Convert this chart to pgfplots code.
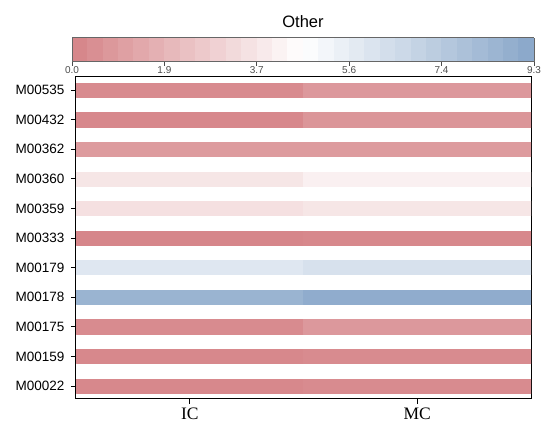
\documentclass[border=0pt]{standalone}
\usepackage{fontspec}
\setmainfont{Liberation Serif}
\newfontfamily\arial{Liberation Sans}
\usepackage{pgfplots}
\pgfplotsset{compat=1.18}
\usepackage{pgfplotstable}

\pgfplotstableread{
x y c
-0.5 9.76 0.3
0.5 9.76 0.3
0.5 10.24 0.3
-0.5 10.24 0.3
0.5 9.76 0.8
1.5 9.76 0.8
1.5 10.24 0.8
0.5 10.24 0.8
-0.5 8.76 0.2
0.5 8.76 0.2
0.5 9.24 0.2
-0.5 9.24 0.2
0.5 8.76 0.7
1.5 8.76 0.7
1.5 9.24 0.7
0.5 9.24 0.7
-0.5 7.76 0.9
0.5 7.76 0.9
0.5 8.24 0.9
-0.5 8.24 0.9
0.5 7.76 0.9
1.5 7.76 0.9
1.5 8.24 0.9
0.5 8.24 0.9
-0.5 6.76 3.7
0.5 6.76 3.7
0.5 7.24 3.7
-0.5 7.24 3.7
0.5 6.76 4.1
1.5 6.76 4.1
1.5 7.24 4.1
0.5 7.24 4.1
-0.5 5.76 3.5
0.5 5.76 3.5
0.5 6.24 3.5
-0.5 6.24 3.5
0.5 5.76 3.7
1.5 5.76 3.7
1.5 6.24 3.7
0.5 6.24 3.7
-0.5 4.76 0.1
0.5 4.76 0.1
0.5 5.24 0.1
-0.5 5.24 0.1
0.5 4.76 0.2
1.5 4.76 0.2
1.5 5.24 0.2
0.5 5.24 0.2
-0.5 3.76 5.9
0.5 3.76 5.9
0.5 4.24 5.9
-0.5 4.24 5.9
0.5 3.76 6.2
1.5 3.76 6.2
1.5 4.24 6.2
0.5 4.24 6.2
-0.5 2.76 8.6
0.5 2.76 8.6
0.5 3.24 8.6
-0.5 3.24 8.6
0.5 2.76 9.0
1.5 2.76 9.0
1.5 3.24 9.0
0.5 3.24 9.0
-0.5 1.76 0.3
0.5 1.76 0.3
0.5 2.24 0.3
-0.5 2.24 0.3
0.5 1.76 0.8
1.5 1.76 0.8
1.5 2.24 0.8
0.5 2.24 0.8
-0.5 0.76 0.2
0.5 0.76 0.2
0.5 1.24 0.2
-0.5 1.24 0.2
0.5 0.76 0.3
1.5 0.76 0.3
1.5 1.24 0.3
0.5 1.24 0.3
-0.5 -0.24 0.2
0.5 -0.24 0.2
0.5 0.24 0.2
-0.5 0.24 0.2
0.5 -0.24 0.3
1.5 -0.24 0.3
1.5 0.24 0.3
0.5 0.24 0.3
}\cells

\begin{document}
\begin{tikzpicture}
\path[use as bounding box] (-76bp,-30bp) rectangle (469bp,399bp);
\begin{axis}[
  scale only axis,
  width=455bp, height=322bp,
  xmin=-0.5, xmax=1.5,
  ymin=-0.44, ymax=10.44,
  axis line style={black, line width=1bp},
  xtick={0,1},
  xticklabels={IC,MC},
  ytick={0,1,2,3,4,5,6,7,8,9,10},
  yticklabels={M00022,M00159,M00175,M00178,M00179,M00333,M00359,M00360,M00362,M00432,M00535},
  tick align=outside,
  xtick pos=lower, ytick pos=left,
  major tick length=5bp,
  tick style={black, line width=0.8bp},
  xticklabel style={font=\fontsize{17.5bp}{20bp}\selectfont},
  yticklabel style={font=\arial\fontsize{13.5bp}{16bp}\selectfont, xshift=-3bp},
  colormap={rwb}{rgb255=(213,131,135) rgb255=(255,255,255) rgb255=(136,166,201)},
  point meta min=0, point meta max=9.3,
  colorbar horizontal,
  colorbar sampled,
  colorbar style={
    at={(parent axis.north)}, anchor=south, yshift=23.7bp, xshift=-0.5bp,
    scale only axis,
    width=462bp, height=24bp,
    samples=31,
    xtick={0,1.86,3.72,5.58,7.44,9.3},
    xticklabels={0.0,1.9,3.7,5.6,7.4,9.3},
    xtick align=outside,
    xtick pos=lower,
    ytick=\empty,
    major tick length=4bp,
    tick style={black!70, line width=0.8bp},
    axis line style={black!60, line width=0.8bp},
    ticklabel style={font=\arial\fontsize{10bp}{12bp}\selectfont, text=black!70, yshift=2.5bp},
    title={Other},
    title style={font=\arial\fontsize{16.5bp}{19bp}\selectfont, yshift=0.5bp},
  },
]
\addplot[patch, patch type=rectangle, shader=flat, point meta=\thisrow{c}] table[x=x, y=y] {\cells};
\end{axis}
\end{tikzpicture}
\end{document}
